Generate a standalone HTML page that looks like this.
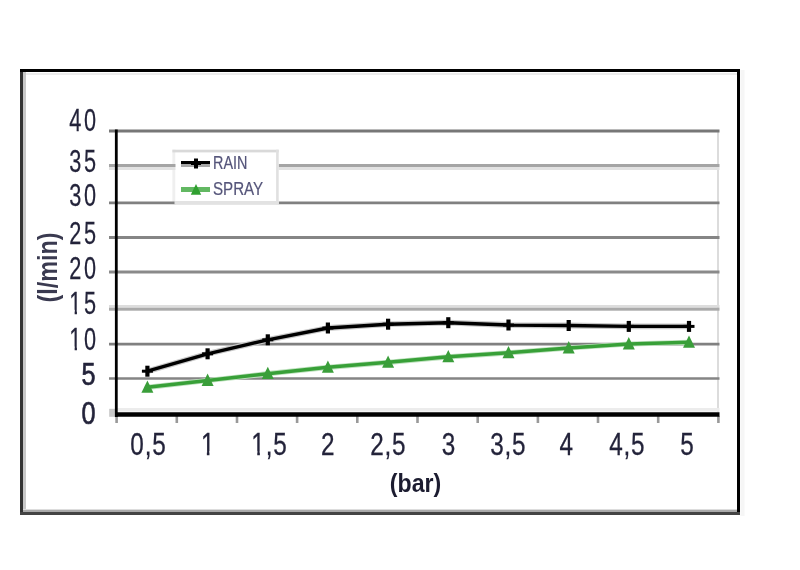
<!DOCTYPE html>
<html><head><meta charset="utf-8"><title>Chart</title>
<style>html,body{margin:0;padding:0;background:#fff;width:800px;height:570px;overflow:hidden}svg{display:block}</style>
</head><body>
<svg width="800" height="570" viewBox="0 0 800 570">
<rect x="0" y="0" width="800" height="570" fill="#fff"/>
<rect x="20" y="69" width="3" height="446" fill="#333"/>
<rect x="23" y="72" width="3" height="437" fill="#c8c8c8"/>
<rect x="20" y="69" width="720" height="3" fill="#000"/>
<rect x="26" y="73" width="711" height="2" fill="#ececec"/>
<rect x="737" y="69" width="3" height="446" fill="#000"/>
<rect x="740.5" y="70" width="4" height="446" fill="#f6f6f6"/>
<rect x="23" y="509" width="714" height="1" fill="#ddd"/>
<rect x="23" y="510" width="714" height="2" fill="#aaa"/>
<rect x="20" y="512" width="720" height="3" fill="#444"/>
<rect x="717" y="131" width="2" height="281" fill="#dcdcdc"/>
<rect x="172.4" y="149.7" width="3.1" height="54.6" fill="#efefef"/>
<line x1="109" y1="131" x2="719.5" y2="131" stroke="#777" stroke-width="2.8"/>
<line x1="109" y1="202.9" x2="719.5" y2="202.9" stroke="#808080" stroke-width="2.8"/>
<line x1="109" y1="237.4" x2="719.5" y2="237.4" stroke="#858585" stroke-width="3"/>
<line x1="109" y1="272" x2="719.5" y2="272" stroke="#8a8a8a" stroke-width="2.8"/>
<line x1="109" y1="344.1" x2="719.5" y2="344.1" stroke="#808080" stroke-width="2.8"/>
<line x1="109" y1="378.5" x2="719.5" y2="378.5" stroke="#858585" stroke-width="2.6"/>
<rect x="109" y="167" width="610.5" height="3" fill="#e2e2e2"/>
<rect x="109" y="164" width="610.5" height="3" fill="#a5a5a5"/>
<rect x="109" y="305" width="610.5" height="2.7" fill="#dddddd"/>
<rect x="109" y="307.7" width="610.5" height="3" fill="#aaaaaa"/>
<rect x="115" y="408" width="604.5" height="3.5" fill="#ececec"/>
<rect x="109.2" y="408.8" width="6" height="8" fill="#c8c8c8"/>
<line x1="116.6" y1="416" x2="116.6" y2="423" stroke="#999" stroke-width="2.6"/>
<line x1="176.8" y1="416" x2="176.8" y2="423" stroke="#999" stroke-width="2.6"/>
<line x1="237.0" y1="416" x2="237.0" y2="423" stroke="#999" stroke-width="2.6"/>
<line x1="297.1" y1="416" x2="297.1" y2="423" stroke="#999" stroke-width="2.6"/>
<line x1="357.3" y1="416" x2="357.3" y2="423" stroke="#999" stroke-width="2.6"/>
<line x1="417.5" y1="416" x2="417.5" y2="423" stroke="#999" stroke-width="2.6"/>
<line x1="477.7" y1="416" x2="477.7" y2="423" stroke="#999" stroke-width="2.6"/>
<line x1="537.9" y1="416" x2="537.9" y2="423" stroke="#999" stroke-width="2.6"/>
<line x1="598.0" y1="416" x2="598.0" y2="423" stroke="#999" stroke-width="2.6"/>
<line x1="658.2" y1="416" x2="658.2" y2="423" stroke="#999" stroke-width="2.6"/>
<line x1="718.4" y1="416" x2="718.4" y2="423" stroke="#999" stroke-width="2.6"/>
<line x1="116.3" y1="129.4" x2="116.3" y2="417" stroke="#000" stroke-width="2.8"/>
<line x1="115" y1="414.5" x2="719.5" y2="414.5" stroke="#000" stroke-width="4.6"/>
<text transform="translate(98.5,131.2) scale(0.69,1)" text-anchor="end" letter-spacing="3.6" font-family="Liberation Sans, sans-serif" font-size="31.5" fill="#23233a" stroke="#23233a" stroke-width="0.25">40</text>
<text transform="translate(98.5,171.8) scale(0.69,1)" text-anchor="end" letter-spacing="3.6" font-family="Liberation Sans, sans-serif" font-size="31.5" fill="#23233a" stroke="#23233a" stroke-width="0.25">35</text>
<text transform="translate(98.5,206.3) scale(0.69,1)" text-anchor="end" letter-spacing="3.6" font-family="Liberation Sans, sans-serif" font-size="31.5" fill="#23233a" stroke="#23233a" stroke-width="0.25">30</text>
<text transform="translate(98.5,243.8) scale(0.69,1)" text-anchor="end" letter-spacing="3.6" font-family="Liberation Sans, sans-serif" font-size="31.5" fill="#23233a" stroke="#23233a" stroke-width="0.25">25</text>
<text transform="translate(98.5,279) scale(0.69,1)" text-anchor="end" letter-spacing="3.6" font-family="Liberation Sans, sans-serif" font-size="31.5" fill="#23233a" stroke="#23233a" stroke-width="0.25">20</text>
<text transform="translate(98.5,313.5) scale(0.69,1)" text-anchor="end" letter-spacing="3.6" font-family="Liberation Sans, sans-serif" font-size="31.5" fill="#23233a" stroke="#23233a" stroke-width="0.25">15</text>
<text transform="translate(98.5,350.3) scale(0.69,1)" text-anchor="end" letter-spacing="3.6" font-family="Liberation Sans, sans-serif" font-size="31.5" fill="#23233a" stroke="#23233a" stroke-width="0.25">10</text>
<text transform="translate(95.6,385) scale(0.8,1)" text-anchor="end" font-family="Liberation Sans, sans-serif" font-size="31.5" fill="#23233a" stroke="#23233a" stroke-width="0.7">5</text>
<text transform="translate(95.6,424.2) scale(0.8,1)" text-anchor="end" font-family="Liberation Sans, sans-serif" font-size="31.5" fill="#23233a" stroke="#23233a" stroke-width="0.7">0</text>
<text transform="translate(148.4,454.8) scale(0.76,1)" text-anchor="middle" letter-spacing="1" font-family="Liberation Sans, sans-serif" font-size="32" fill="#23233a" stroke="#23233a" stroke-width="0.3">0,5</text>
<text transform="translate(208.1,454.8) scale(0.76,1)" text-anchor="middle" letter-spacing="1" font-family="Liberation Sans, sans-serif" font-size="32" fill="#23233a" stroke="#23233a" stroke-width="0.3">1</text>
<text transform="translate(269.4,454.8) scale(0.76,1)" text-anchor="middle" letter-spacing="1" font-family="Liberation Sans, sans-serif" font-size="32" fill="#23233a" stroke="#23233a" stroke-width="0.3">1,5</text>
<text transform="translate(328.2,454.8) scale(0.76,1)" text-anchor="middle" letter-spacing="1" font-family="Liberation Sans, sans-serif" font-size="32" fill="#23233a" stroke="#23233a" stroke-width="0.3">2</text>
<text transform="translate(388.3,454.8) scale(0.76,1)" text-anchor="middle" letter-spacing="1" font-family="Liberation Sans, sans-serif" font-size="32" fill="#23233a" stroke="#23233a" stroke-width="0.3">2,5</text>
<text transform="translate(449.0,454.8) scale(0.76,1)" text-anchor="middle" letter-spacing="1" font-family="Liberation Sans, sans-serif" font-size="32" fill="#23233a" stroke="#23233a" stroke-width="0.3">3</text>
<text transform="translate(508.2,454.8) scale(0.76,1)" text-anchor="middle" letter-spacing="1" font-family="Liberation Sans, sans-serif" font-size="32" fill="#23233a" stroke="#23233a" stroke-width="0.3">3,5</text>
<text transform="translate(566.7,454.8) scale(0.76,1)" text-anchor="middle" letter-spacing="1" font-family="Liberation Sans, sans-serif" font-size="32" fill="#23233a" stroke="#23233a" stroke-width="0.3">4</text>
<text transform="translate(627.2,454.8) scale(0.76,1)" text-anchor="middle" letter-spacing="1" font-family="Liberation Sans, sans-serif" font-size="32" fill="#23233a" stroke="#23233a" stroke-width="0.3">4,5</text>
<text transform="translate(687.4,454.8) scale(0.76,1)" text-anchor="middle" letter-spacing="1" font-family="Liberation Sans, sans-serif" font-size="32" fill="#23233a" stroke="#23233a" stroke-width="0.3">5</text>
<text transform="translate(57,267.4) rotate(-90) scale(0.835,1)" text-anchor="middle" font-family="Liberation Sans, sans-serif" font-weight="bold" font-size="28" fill="#3a3a50">(l/min)</text>
<text transform="translate(415.5,492) scale(0.89,1)" text-anchor="middle" font-family="Liberation Sans, sans-serif" font-weight="bold" font-size="26" fill="#1c1c30">(bar)</text>
<polyline points="147.4,387.3 207.6,380.5 267.8,373.7 327.9,367.3 388.1,362.3 448.3,356.8 508.5,352.8 568.7,348 628.8,344 689.0,342.3" fill="none" stroke="#bfe2bf" stroke-width="5.2" stroke-linejoin="round"/>
<polyline points="147.4,387.3 207.6,380.5 267.8,373.7 327.9,367.3 388.1,362.3 448.3,356.8 508.5,352.8 568.7,348 628.8,344 689.0,342.3" fill="none" stroke="#38a038" stroke-width="3.6" stroke-linejoin="round"/>
<polyline points="147.4,371.2 207.6,353.8 267.8,339.8 327.9,328 388.1,324.2 448.3,322.7 508.5,325 568.7,325.5 628.8,326.4 689.0,326.4" fill="none" stroke="#c8c8c8" stroke-width="5.8" stroke-linejoin="round"/>
<polyline points="147.4,371.2 207.6,353.8 267.8,339.8 327.9,328 388.1,324.2 448.3,322.7 508.5,325 568.7,325.5 628.8,326.4 689.0,326.4" fill="none" stroke="#000" stroke-width="3.4" stroke-linejoin="round"/>
<path d="M147.4,380.4L153.4,392.7L141.4,392.7Z" fill="#3a9e3a"/>
<path d="M207.6,373.6L213.6,385.9L201.6,385.9Z" fill="#3a9e3a"/>
<path d="M267.8,366.8L273.8,379.1L261.8,379.1Z" fill="#3a9e3a"/>
<path d="M327.9,360.4L333.9,372.7L321.9,372.7Z" fill="#3a9e3a"/>
<path d="M388.1,355.4L394.1,367.7L382.1,367.7Z" fill="#3a9e3a"/>
<path d="M448.3,349.9L454.3,362.2L442.3,362.2Z" fill="#3a9e3a"/>
<path d="M508.5,345.9L514.5,358.2L502.5,358.2Z" fill="#3a9e3a"/>
<path d="M568.7,341.1L574.7,353.4L562.7,353.4Z" fill="#3a9e3a"/>
<path d="M628.8,337.1L634.8,349.4L622.8,349.4Z" fill="#3a9e3a"/>
<path d="M689.0,335.4L695.0,347.7L683.0,347.7Z" fill="#3a9e3a"/>
<path d="M141.9,371.2H152.9" stroke="#000" stroke-width="3" fill="none"/><path d="M147.4,365.7V376.7" stroke="#000" stroke-width="4.2" fill="none"/>
<path d="M202.1,353.8H213.1" stroke="#000" stroke-width="3" fill="none"/><path d="M207.6,348.3V359.3" stroke="#000" stroke-width="4.2" fill="none"/>
<path d="M262.3,339.8H273.3" stroke="#000" stroke-width="3" fill="none"/><path d="M267.8,334.3V345.3" stroke="#000" stroke-width="4.2" fill="none"/>
<path d="M322.4,328H333.4" stroke="#000" stroke-width="3" fill="none"/><path d="M327.9,322.5V333.5" stroke="#000" stroke-width="4.2" fill="none"/>
<path d="M382.6,324.2H393.6" stroke="#000" stroke-width="3" fill="none"/><path d="M388.1,318.7V329.7" stroke="#000" stroke-width="4.2" fill="none"/>
<path d="M442.8,322.7H453.8" stroke="#000" stroke-width="3" fill="none"/><path d="M448.3,317.2V328.2" stroke="#000" stroke-width="4.2" fill="none"/>
<path d="M503.0,325H514.0" stroke="#000" stroke-width="3" fill="none"/><path d="M508.5,319.5V330.5" stroke="#000" stroke-width="4.2" fill="none"/>
<path d="M563.2,325.5H574.2" stroke="#000" stroke-width="3" fill="none"/><path d="M568.7,320.0V331.0" stroke="#000" stroke-width="4.2" fill="none"/>
<path d="M623.3,326.4H634.3" stroke="#000" stroke-width="3" fill="none"/><path d="M628.8,320.9V331.9" stroke="#000" stroke-width="4.2" fill="none"/>
<path d="M683.5,326.4H694.5" stroke="#000" stroke-width="3" fill="none"/><path d="M689.0,320.9V331.9" stroke="#000" stroke-width="4.2" fill="none"/>
<rect x="175.5" y="149.7" width="103.2" height="54.6" fill="#fff"/>
<rect x="172.4" y="149.7" width="106.3" height="2.7" fill="#d9d9d9"/>
<rect x="276.1" y="149.7" width="2.6" height="54.6" fill="#e0e0e0"/>
<rect x="174.5" y="201" width="104.2" height="3.3" fill="#e2e2e2"/>
<line x1="181" y1="165.5" x2="210" y2="165.5" stroke="#a8a8a8" stroke-width="3"/>
<line x1="181" y1="162.5" x2="210" y2="162.5" stroke="#000" stroke-width="3"/>
<path d="M191.0,163.5H201.0" stroke="#000" stroke-width="3" fill="none"/><path d="M196.0,158.5V168.5" stroke="#000" stroke-width="4" fill="none"/>
<line x1="181" y1="189.5" x2="210" y2="189.5" stroke="#62b862" stroke-width="5"/>
<path d="M196.0,184.0L201.2,194.7L190.8,194.7Z" fill="#30a030"/>
<text transform="translate(213,169) scale(0.77,1)" font-family="Liberation Sans, sans-serif" font-size="18.7" fill="#55557a" stroke="#55557a" stroke-width="0.2">RAIN</text>
<text transform="translate(213,195) scale(0.81,1)" font-family="Liberation Sans, sans-serif" font-size="18.7" fill="#55557a" stroke="#55557a" stroke-width="0.2">SPRAY</text>
<rect x="69.83" y="309.82" width="4.81" height="5.60" fill="#fff"/>
<rect x="76.94" y="309.82" width="4.64" height="5.60" fill="#fff"/>
<rect x="69.83" y="346.62" width="4.81" height="5.60" fill="#fff"/>
<rect x="76.94" y="346.62" width="4.64" height="5.60" fill="#fff"/>
<rect x="201.48" y="451.06" width="5.37" height="5.69" fill="#fff"/>
<rect x="209.45" y="451.06" width="5.18" height="5.69" fill="#fff"/>
<rect x="251.89" y="451.06" width="5.37" height="5.69" fill="#fff"/>
<rect x="259.86" y="451.06" width="5.18" height="5.69" fill="#fff"/>
</svg>
</body></html>
